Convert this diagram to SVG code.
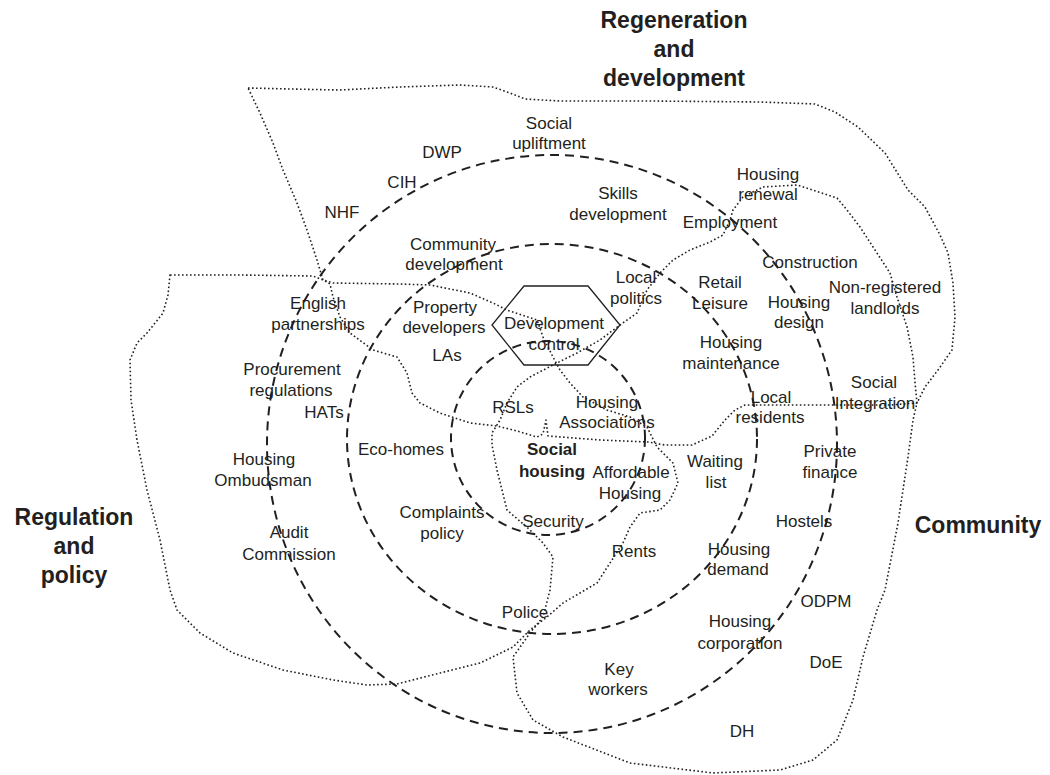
<svg xmlns="http://www.w3.org/2000/svg" width="1050" height="775" viewBox="0 0 1050 775">
  <style>
    .lbl { font-family: "Liberation Sans", Arial, Helvetica, sans-serif; font-size: 17px; fill: #231f20; text-anchor: middle; }
    .hub { font-family: "Liberation Sans", Arial, Helvetica, sans-serif; font-size: 17px; font-weight: bold; fill: #231f20; text-anchor: middle; }
    .domain { font-family: "Liberation Sans", Arial, Helvetica, sans-serif; font-size: 23px; font-weight: bold; fill: #231f20; text-anchor: middle; }
    .ring { fill: none; stroke: #231f20; stroke-width: 2; stroke-dasharray: 9 6; }
    .zone { fill: none; stroke: #231f20; stroke-width: 1.6; stroke-dasharray: 1.6 2.4; stroke-linejoin: round; }
    .hex { fill: none; stroke: #231f20; stroke-width: 1.3; }
  </style>
  <rect width="1050" height="775" fill="#ffffff"/>

  <!-- dotted domain boundaries -->
  <g id="zones">
    <path id="zone-regeneration" class="zone" d="M248,88 L290,89 L340,90 L400,87 L460,85 L493,87 L510,93 L525,99 L560,101 L650,101 L760,102 L815,104 L835,112 L858,127 L885,153 L908,190 L925,207 L940,235 L948,253 L953,283 L955,317 L952,350 L938,370 L925,387 L917,403 L890,405 L840,405 L780,405 L745,405 L735,410 L725,420 L712,436 L692,445 L665,445 L648,442 L600,440 L548,436 L546,420 L543,434 L537,437 L517,431 L497,426 L470,423 L440,413 L420,403 L412,393 L407,373 L397,357 L373,350 L350,333 L340,317 L333,297 L330,284 L323,280 L317,260 L307,230 L297,203 L283,170 L273,143 L260,113 Z"/>
    <path id="zone-regulation" class="zone" d="M170,275 L240,275 L313,276 L323,280 L333,283 L400,284 L430,285 L470,293 L493,303 L507,310 L537,320 L543,337 L553,357 L560,370 L570,383 L583,397 L607,410 L630,417 L647,427 L657,447 L673,463 L678,483 L670,500 L660,510 L640,513 L630,527 L623,543 L610,563 L597,583 L580,593 L563,603 L547,617 L530,630 L513,647 L480,663 L440,673 L397,684 L367,685 L333,680 L283,670 L233,653 L200,633 L177,610 L170,590 L160,540 L147,490 L137,440 L131,400 L130,360 L137,343 L147,333 L163,313 L168,295 Z"/>
    <path id="zone-community" class="zone" d="M763,187 L797,185 L837,198 L847,210 L860,227 L890,273 L897,297 L907,327 L913,357 L915,383 L917,403 L913,420 L908,457 L898,523 L885,590 L877,610 L863,657 L853,700 L837,740 L813,760 L780,770 L713,773 L630,763 L563,737 L533,720 L517,693 L513,657 L530,633 L543,617 L550,590 L553,557 L543,543 L530,530 L507,510 L497,470 L492,445 L492,433 L500,420 L507,403 L517,387 L530,377 L553,365 L577,353 L600,340 L620,325 L637,313 L647,290 L660,273 L673,260 L690,250 L710,242 L723,235 L730,220 L733,210 L743,197 Z"/>
  </g>

  <!-- concentric dashed rings -->
  <g id="rings">
    <ellipse id="ring-outer" class="ring" cx="552" cy="444" rx="285" ry="289"/>
    <ellipse id="ring-middle" class="ring" cx="552" cy="439" rx="205" ry="195"/>
    <circle id="ring-inner" class="ring" cx="548" cy="438" r="97"/>
  </g>

  <!-- domain headings -->
  <g id="domain-regeneration">
    <text class="domain" x="674" y="28">Regeneration</text>
    <text class="domain" x="674" y="57">and</text>
    <text class="domain" x="674" y="86">development</text>
  </g>
  <g id="domain-regulation">
    <text class="domain" x="74" y="525">Regulation</text>
    <text class="domain" x="74" y="554">and</text>
    <text class="domain" x="74" y="583">policy</text>
  </g>
  <g id="domain-community">
    <text class="domain" x="978" y="533">Community</text>
  </g>

  <!-- centre -->
  <g id="development-control">
    <polygon class="hex" points="524,286 588,286 620,325 588,365 524,365 492,325"/>
    <text class="lbl" x="554" y="329">Development</text>
    <text class="lbl" x="554" y="350">control</text>
  </g>
  <g id="social-housing">
    <text class="hub" x="552" y="455">Social</text>
    <text class="hub" x="552" y="477">housing</text>
  </g>

  <!-- regeneration and development terms -->
  <g id="social-upliftment"><text class="lbl" x="549" y="129">Social</text><text class="lbl" x="549" y="149">upliftment</text></g>
  <g id="dwp"><text class="lbl" x="442" y="158">DWP</text></g>
  <g id="cih"><text class="lbl" x="402" y="188">CIH</text></g>
  <g id="nhf"><text class="lbl" x="342" y="218">NHF</text></g>
  <g id="community-development"><text class="lbl" x="453" y="250">Community</text><text class="lbl" x="454" y="270">development</text></g>
  <g id="skills-development"><text class="lbl" x="618" y="199">Skills</text><text class="lbl" x="618" y="220">development</text></g>
  <g id="housing-renewal"><text class="lbl" x="768" y="180">Housing</text><text class="lbl" x="768" y="200">renewal</text></g>
  <g id="employment"><text class="lbl" x="730" y="228">Employment</text></g>
  <g id="construction"><text class="lbl" x="810" y="268">Construction</text></g>
  <g id="non-registered-landlords"><text class="lbl" x="885" y="293">Non-registered</text><text class="lbl" x="885" y="314">landlords</text></g>
  <g id="retail-leisure"><text class="lbl" x="720" y="288">Retail</text><text class="lbl" x="720" y="309">Leisure</text></g>
  <g id="housing-design"><text class="lbl" x="799" y="308">Housing</text><text class="lbl" x="799" y="328">design</text></g>
  <g id="housing-maintenance"><text class="lbl" x="731" y="348">Housing</text><text class="lbl" x="731" y="369">maintenance</text></g>
  <g id="social-integration"><text class="lbl" x="874" y="388">Social</text><text class="lbl" x="875" y="409">Integration</text></g>
  <g id="local-residents"><text class="lbl" x="771" y="403">Local</text><text class="lbl" x="770" y="423">residents</text></g>
  <g id="local-politics"><text class="lbl" x="636" y="283">Local</text><text class="lbl" x="636" y="304">politics</text></g>
  <g id="property-developers"><text class="lbl" x="445" y="313">Property</text><text class="lbl" x="444" y="333">developers</text></g>
  <g id="las"><text class="lbl" x="447" y="361">LAs</text></g>
  <g id="english-partnerships"><text class="lbl" x="318" y="309">English</text><text class="lbl" x="318" y="330">partnerships</text></g>

  <!-- regulation and policy terms -->
  <g id="procurement-regulations"><text class="lbl" x="292" y="375">Procurement</text><text class="lbl" x="291" y="396">regulations</text></g>
  <g id="hats"><text class="lbl" x="324" y="418">HATs</text></g>
  <g id="eco-homes"><text class="lbl" x="401" y="455">Eco-homes</text></g>
  <g id="housing-ombudsman"><text class="lbl" x="264" y="465">Housing</text><text class="lbl" x="263" y="486">Ombudsman</text></g>
  <g id="audit-commission"><text class="lbl" x="289" y="538">Audit</text><text class="lbl" x="289" y="560">Commission</text></g>
  <g id="complaints-policy"><text class="lbl" x="442" y="518">Complaints</text><text class="lbl" x="442" y="539">policy</text></g>
  <g id="police"><text class="lbl" x="525" y="618">Police</text></g>
  <g id="rsls"><text class="lbl" x="513" y="413">RSLs</text></g>
  <g id="housing-associations"><text class="lbl" x="607" y="408">Housing</text><text class="lbl" x="607" y="428">Associations</text></g>
  <g id="affordable-housing"><text class="lbl" x="631" y="478">Affordable</text><text class="lbl" x="630" y="499">Housing</text></g>
  <g id="security"><text class="lbl" x="553" y="527">Security</text></g>
  <g id="rents"><text class="lbl" x="634" y="557">Rents</text></g>

  <!-- community terms -->
  <g id="waiting-list"><text class="lbl" x="715" y="467">Waiting</text><text class="lbl" x="716" y="488">list</text></g>
  <g id="private-finance"><text class="lbl" x="830" y="457">Private</text><text class="lbl" x="830" y="478">finance</text></g>
  <g id="hostels"><text class="lbl" x="804" y="527">Hostels</text></g>
  <g id="housing-demand"><text class="lbl" x="739" y="555">Housing</text><text class="lbl" x="738" y="575">demand</text></g>
  <g id="odpm"><text class="lbl" x="826" y="607">ODPM</text></g>
  <g id="housing-corporation"><text class="lbl" x="740" y="627">Housing</text><text class="lbl" x="740" y="649">corporation</text></g>
  <g id="doe"><text class="lbl" x="826" y="668">DoE</text></g>
  <g id="key-workers"><text class="lbl" x="619" y="675">Key</text><text class="lbl" x="618" y="695">workers</text></g>
  <g id="dh"><text class="lbl" x="742" y="737">DH</text></g>
</svg>
